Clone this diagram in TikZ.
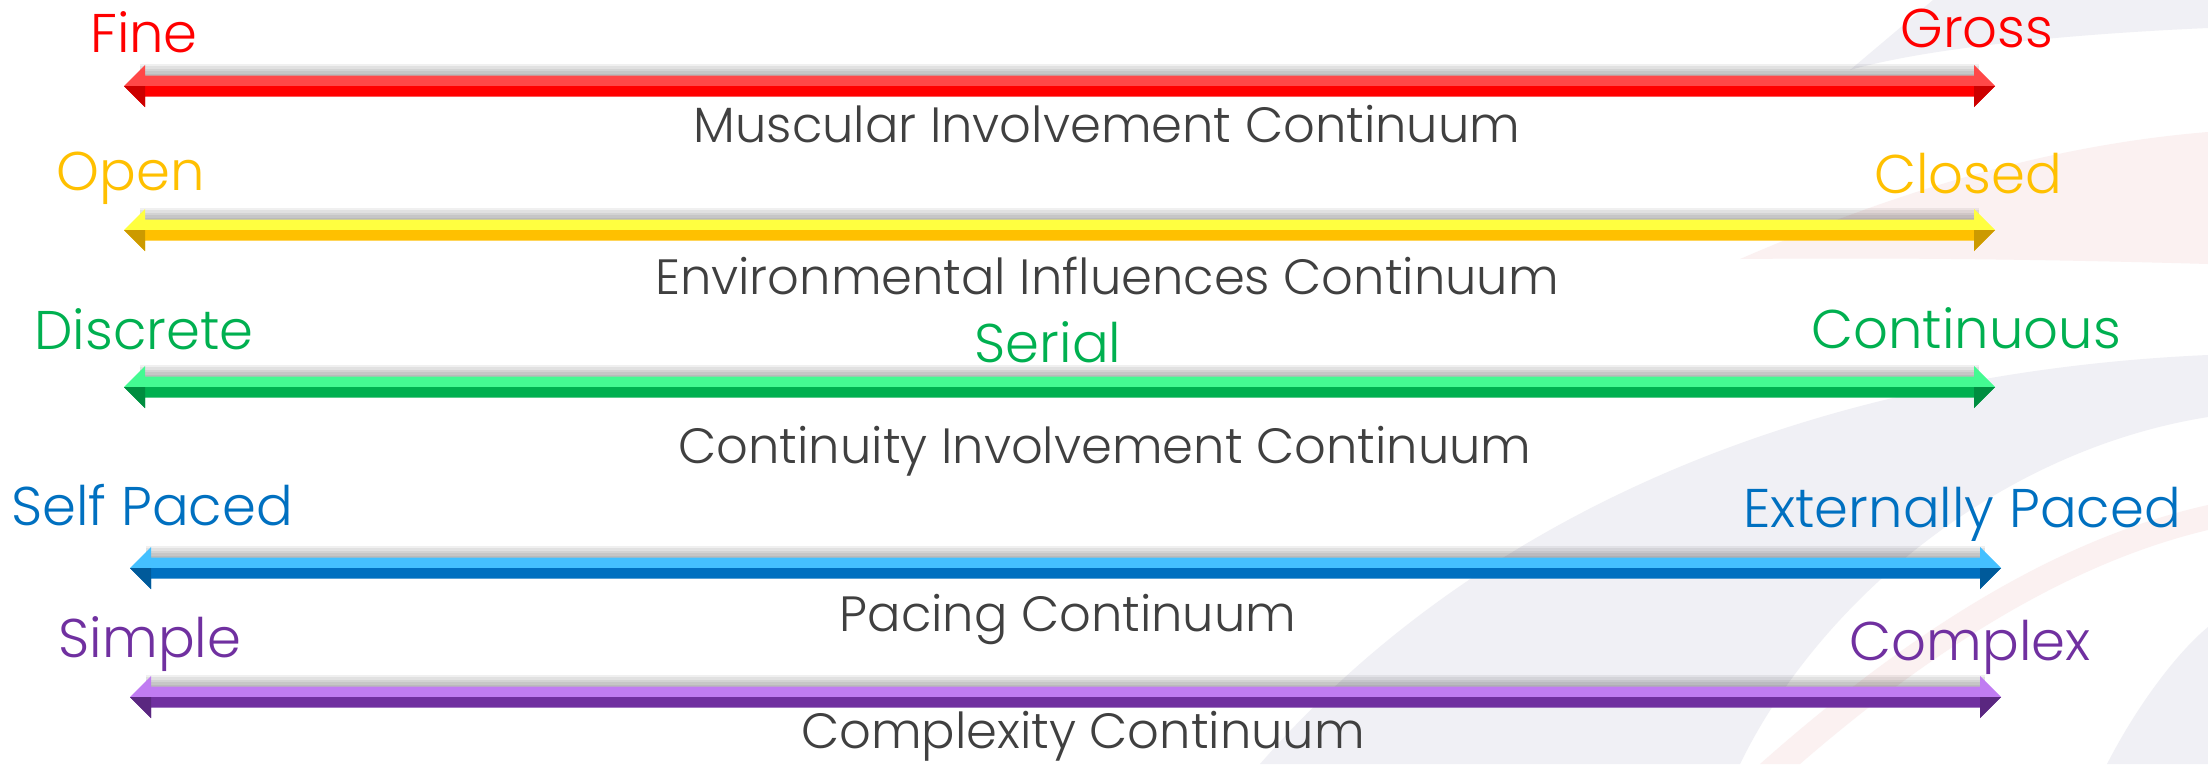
\documentclass[tikz,border=0pt]{standalone}
\usepackage{fontspec}
\setmainfont{Poppins}[UprightFont=* Light]
\usetikzlibrary{calc}
\definecolor{musclehi}{HTML}{FF4848}
\definecolor{musclelo}{HTML}{FF0000}
\definecolor{envhi}{HTML}{FFFF40}
\definecolor{envlo}{HTML}{FFC000}
\definecolor{conthi}{HTML}{44FA92}
\definecolor{contlo}{HTML}{00B050}
\definecolor{pacehi}{HTML}{44C0FF}
\definecolor{pacelo}{HTML}{0070C0}
\definecolor{cplxhi}{HTML}{C07CF2}
\definecolor{cplxlo}{HTML}{7030A0}
\definecolor{captionink}{HTML}{404040}
\definecolor{swoopgrey}{HTML}{F0F0F5}
\definecolor{swooppink}{HTML}{FBF1F1}

\begin{document}
\begin{tikzpicture}[line join=round,
  endword/.style={anchor=base,inner sep=0pt,font=\fontsize{15.5}{18}\selectfont},
  scalename/.style={anchor=base,inner sep=0pt,text=captionink,font=\fontsize{14.1}{16}\selectfont}]
\path[use as bounding box] (0,0) rectangle (22.08,7.64);
\fill[white] (0,0) rectangle (22.08,7.64);

% faint swoops in the right half
\fill[swoopgrey] (19.33,7.64) -- (22.08,7.64) -- (22.08,7.36) .. controls (20.5,7.29) and (19.2,7.14) .. (18.5,6.94) -- cycle;
\fill[swooppink] (17.40,5.05) .. controls (19.0,5.74) and (20.5,6.19) .. (22.08,6.32) -- (22.08,5.00) .. controls (20.0,5.06) and (18.5,5.06) .. (17.40,5.05) -- cycle;
\fill[swoopgrey] (12.6,0) .. controls (14.6,2.3) and (17.8,3.9) .. (22.08,4.09) -- (22.08,3.47) .. controls (20.0,3.14) and (18.2,1.64) .. (17.40,0) -- cycle;
\fill[swooppink] (17.60,0) .. controls (19.0,1.24) and (20.5,2.24) .. (22.08,2.59) -- (22.08,2.34) .. controls (20.6,1.99) and (19.2,1.04) .. (18.0,0) -- cycle;
\fill[swoopgrey] (21.07,0) .. controls (21.4,0.64) and (21.8,1.14) .. (22.08,1.37) -- (22.08,0) -- cycle;

% ends of the five scales
\coordinate (fine-end) at (1.24,6.78);
\coordinate (gross-end) at (19.95,6.78);
\coordinate (open-end) at (1.24,5.34);
\coordinate (closed-end) at (19.95,5.34);
\coordinate (discrete-end) at (1.24,3.77);
\coordinate (continuous-end) at (19.95,3.77);
\coordinate (self-end) at (1.30,1.96);
\coordinate (ext-end) at (20.01,1.96);
\coordinate (simple-end) at (1.30,0.67);
\coordinate (complex-end) at (20.01,0.67);

% two-headed bars, light upper half over a darker lower half
\foreach \a/\b/\hi/\lo in {fine-end/gross-end/musclehi/musclelo,open-end/closed-end/envhi/envlo,
  discrete-end/continuous-end/conthi/contlo,self-end/ext-end/pacehi/pacelo,simple-end/complex-end/cplxhi/cplxlo}{
  \foreach \s in {1,...,5}
    \fill[black,opacity=.06] ($(\a)+(.16,.09)$) rectangle ($(\b)+(-.16,.1+.025*\s)$);
  \fill[\hi] (\a) -- ++(.21,.21) -- ++(0,-.105) -- ($(\b)+(-.21,.105)$) -- ++(0,.105) -- (\b) -- cycle;
  \fill[\lo] (\a) -- ++(.21,-.21) -- ++(0,.105) -- ($(\b)+(-.21,-.105)$) -- ++(0,-.105) -- (\b) -- cycle;
  \fill[\lo!80!black] (\a) -- ++(.21,-.21) -- ++(0,.21) -- cycle;
  \fill[\lo!80!black] (\b) -- ++(-.21,-.21) -- ++(0,.21) -- cycle;
}

% end words and scale names
\node[endword,text=musclelo] (fine) at (1.44,7.12) {Fine};
\node[endword,text=musclelo] (gross) at (19.77,7.17) {Gross};
\node[scalename] (muscular) at (11.07,6.22) {Muscular Involvement Continuum};

\node[endword,text=envlo] (open) at (1.31,5.74) {Open};
\node[endword,text=envlo] (closed) at (19.68,5.71) {Closed};
\node[scalename] (environmental) at (11.07,4.70) {Environmental Influences Continuum};

\node[endword,text=contlo] (discrete) at (1.44,4.15) {Discrete};
\node[endword,text=contlo] (serial) at (10.48,4.02) {Serial};
\node[endword,text=contlo] (continuous) at (19.66,4.16) {Continuous};
\node[scalename] (continuity) at (11.05,3.01) {Continuity Involvement Continuum};

\node[endword,text=pacelo] (selfpaced) at (1.52,2.39) {Self Paced};
\node[endword,text=pacelo] (extpaced) at (19.62,2.37) {Externally Paced};
\node[scalename] (pacing) at (10.68,1.33) {Pacing Continuum};

\node[endword,text=cplxlo] (simple) at (1.50,1.07) {Simple};
\node[endword,text=cplxlo] (complex) at (19.70,1.04) {Complex};
\node[scalename] (complexity) at (10.83,0.16) {Complexity Continuum};
\end{tikzpicture}
\end{document}
